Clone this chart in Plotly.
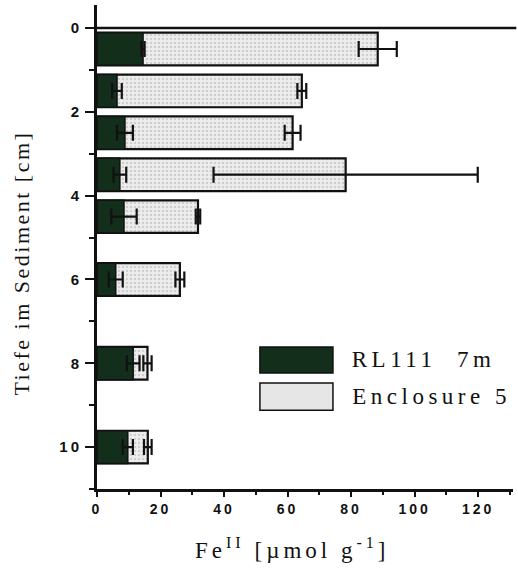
import plotly.graph_objects as go

# ---- data ----
depths = [0.5, 1.5, 2.5, 3.5, 4.5, 6, 8, 10]
rl111 = [14.5, 6.3, 8.8, 7.2, 8.5, 5.9, 11.4, 9.7]
rl111_err = [0.5, 1.5, 2.5, 2.0, 4.0, 2.2, 2.0, 1.6]
enc5 = [88.4, 64.5, 61.6, 78.3, 31.8, 26.1, 15.9, 16.0]
enc5_err = [6.0, 1.4, 2.5, 41.6, 0.7, 1.4, 1.3, 1.2]
series_names = ["RL111  7m", "Enclosure 5"]
y_ticks = [0, 2, 4, 6, 8, 10]
x_ticks = [0, 20, 40, 60, 80, 100, 120]

DARK = "#142e1c"
LIGHT = "#e9e9e9"
SERIF = "Liberation Serif, Times New Roman"
LEG_SPACING = 4.5

fig = go.Figure()
fig.add_trace(go.Bar(
    y=depths, x=enc5, orientation="h", name=series_names[1], width=0.78,
    marker=dict(color=LIGHT, line=dict(color="#111111", width=2.2),
                pattern=dict(shape=".", fgcolor="#b0b0b0", bgcolor="#ededed",
                             size=4, solidity=0.3)),
    error_x=dict(type="data", array=enc5_err, color="#111111", thickness=2.2, width=8),
    showlegend=False,
))
fig.add_trace(go.Bar(
    y=depths, x=rl111, orientation="h", name=series_names[0], width=0.78,
    marker=dict(color=DARK, line=dict(color="#111111", width=1.5)),
    error_x=dict(type="data", array=rl111_err, color="#111111", thickness=2.2, width=8),
    showlegend=False,
))

fig.update_layout(
    barmode="overlay",
    width=518, height=572,
    margin=dict(l=97, r=5, t=5, b=83, autoexpand=False),
    plot_bgcolor="white", paper_bgcolor="white",
    font=dict(family="Liberation Sans, Arial", color="#111111"),
)
fig.update_xaxes(
    range=[0, 131], tickvals=x_ticks, ticktext=[str(v) for v in x_ticks],
    showgrid=False, zeroline=False, showline=True, linecolor="#111111", linewidth=2.5,
    ticks="outside", ticklen=5, tickwidth=2, tickcolor="#111111",
    minor=dict(dtick=10, ticks="outside", ticklen=3, tickwidth=2, tickcolor="#111111"),
    tickfont=dict(size=14, weight="bold", family="Liberation Sans, Arial"),
    automargin=False,
)
fig.update_yaxes(
    range=[11, -0.55], tickvals=y_ticks, ticktext=[str(v) for v in y_ticks],
    showgrid=False, zeroline=False, showline=True, linecolor="#111111", linewidth=3,
    ticks="outside", ticklen=9, tickwidth=2, tickcolor="#111111",
    minor=dict(tickvals=[1, 3, 5, 7, 9, 11], ticks="outside", ticklen=5, tickwidth=2, tickcolor="#111111"),
    tickfont=dict(size=15, weight="bold", family="Liberation Sans, Arial"),
    automargin=False,
)

# sediment surface line at depth 0
fig.add_shape(type="line", xref="paper", yref="y", x0=0, x1=1.008, y0=0, y1=0,
              line=dict(color="#111111", width=2.5))

# custom legend (large swatches)
fig.add_shape(type="rect", xref="x", yref="y", x0=51.3, x1=74.3, y0=7.61, y1=8.23,
              fillcolor=DARK, line=dict(color="#111111", width=1.5))
fig.add_shape(type="rect", xref="x", yref="y", x0=51.3, x1=74.3, y0=8.47, y1=9.12,
              fillcolor="#e6e6e6", line=dict(color="#111111", width=1.5))
for name, yy in zip(series_names, [7.92, 8.80]):
    fig.add_annotation(x=80.3, y=yy, xref="x", yref="y", text=name,
                       showarrow=False, xanchor="left", yanchor="middle",
                       xshift=LEG_SPACING * len(name) / 2 - 2,
                       font=dict(family=SERIF, size=23, color="#111111"))

# axis titles
fig.add_annotation(x=0.471, y=-0.122, xref="paper", yref="paper",
                   text="Fe<sup>II</sup> [µmol g<sup>-1</sup>]", showarrow=False,
                   xanchor="center", yanchor="middle",
                   font=dict(family=SERIF, size=23, color="#111111"))
fig.add_annotation(x=-0.18, y=0.467, xref="paper", yref="paper",
                   text="Tiefe im Sediment [cm]", showarrow=False, textangle=-90,
                   xanchor="center", yanchor="middle",
                   font=dict(family=SERIF, size=22, color="#111111"))

post = """
document.body.style.margin = '0';
var gd = document.getElementById('{plot_id}');
function ls(){
  gd.querySelectorAll('.xtick text, .ytick text').forEach(function(t){t.style.letterSpacing='3px';});
  var ann = gd.querySelectorAll('.annotation-text');
  ann.forEach(function(t, i){ t.style.letterSpacing = (i < 2 ? '4.5px' : (i == 2 ? '4px' : '2.5px')); });
}
ls();
gd.on('plotly_afterplot', ls);
"""

fig.write_html("out.html", post_script=post, config={"displayModeBar": False})
